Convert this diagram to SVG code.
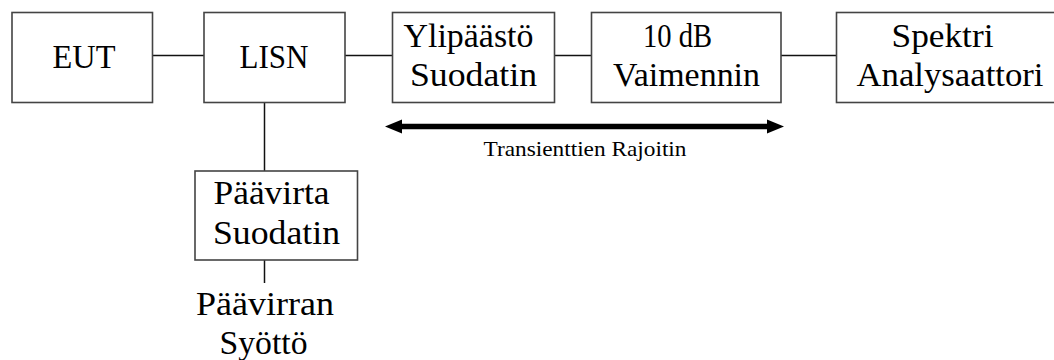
<svg xmlns="http://www.w3.org/2000/svg" width="1054" height="360" viewBox="0 0 1054 360">
<style>
.box{fill:#fff;stroke:#444;stroke-width:1.6}
.ln{stroke:#111;stroke-width:1.5;fill:none}
.t{font-family:"Liberation Serif","Times New Roman",serif;font-size:33px;fill:#000;text-anchor:middle}
.s{font-family:"Liberation Serif","Times New Roman",serif;font-size:21px;fill:#000;text-anchor:middle}
</style>
<rect width="1054" height="360" fill="#fff"/>
<g id="connectors">
<line class="ln" x1="152" y1="55.5" x2="204" y2="55.5"/>
<line class="ln" x1="345" y1="55.5" x2="392" y2="55.5"/>
<line class="ln" x1="554" y1="55.5" x2="591" y2="55.5"/>
<line class="ln" x1="781" y1="55.5" x2="836" y2="55.5"/>
<line class="ln" x1="264.5" y1="102" x2="264.5" y2="171"/>
<line class="ln" x1="264.5" y1="260" x2="264.5" y2="283"/>
<g id="arrow">
<line x1="398" y1="126.5" x2="771" y2="126.5" stroke="#000" stroke-width="5.5"/>
<polygon points="385,126.5 402,119.5 402,133.5" fill="#000"/>
<polygon points="784,126.5 767,119.5 767,133.5" fill="#000"/>
</g>
</g>
<g id="eut">
<rect class="box" x="12" y="12.5" width="140.5" height="90"/>
<text class="t" x="84" y="67.5" textLength="63" lengthAdjust="spacingAndGlyphs">EUT</text>
</g>
<g id="lisn">
<rect class="box" x="204" y="12.5" width="141" height="90"/>
<text class="t" x="274" y="67.5" textLength="69" lengthAdjust="spacingAndGlyphs">LISN</text>
</g>
<g id="ylipaasto">
<rect class="box" x="392.5" y="12.5" width="162" height="90"/>
<text class="t" x="468.5" y="47" textLength="130" lengthAdjust="spacingAndGlyphs">Ylipäästö</text>
<text class="t" x="473.5" y="86" textLength="127" lengthAdjust="spacingAndGlyphs">Suodatin</text>
</g>
<g id="vaimennin">
<rect class="box" x="591.5" y="12.5" width="189.5" height="90"/>
<text class="t" x="677.5" y="47" textLength="69" lengthAdjust="spacingAndGlyphs">10 dB</text>
<text class="t" x="686.5" y="86" textLength="147" lengthAdjust="spacingAndGlyphs">Vaimennin</text>
</g>
<g id="spektri">
<rect class="box" x="836.5" y="12.5" width="222" height="90"/>
<text class="t" x="942.5" y="47" textLength="102" lengthAdjust="spacingAndGlyphs">Spektri</text>
<text class="t" x="950" y="86" textLength="187" lengthAdjust="spacingAndGlyphs">Analysaattori</text>
</g>
<g id="rajoitin-label">
<text class="s" x="585" y="156" textLength="203" lengthAdjust="spacingAndGlyphs">Transienttien Rajoitin</text>
</g>
<g id="paavirta">
<rect class="box" x="195" y="171" width="162.5" height="89"/>
<text class="t" x="271.5" y="203.5" textLength="116" lengthAdjust="spacingAndGlyphs">Päävirta</text>
<text class="t" x="276.5" y="243.5" textLength="127" lengthAdjust="spacingAndGlyphs">Suodatin</text>
</g>
<g id="syotto">
<text class="t" x="265" y="315" textLength="138" lengthAdjust="spacingAndGlyphs">Päävirran</text>
<text class="t" x="263.5" y="354" textLength="88" lengthAdjust="spacingAndGlyphs">Syöttö</text>
</g>
</svg>
